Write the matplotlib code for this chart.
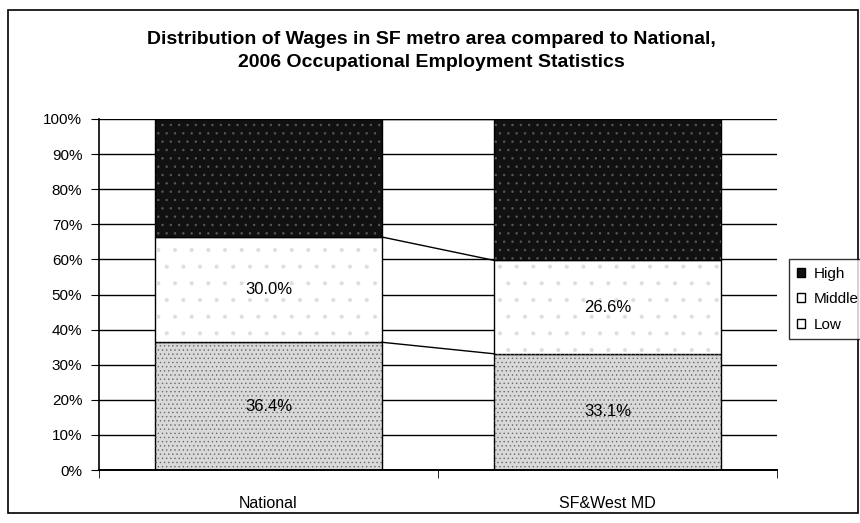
import matplotlib.pyplot as plt
import numpy as np

plt.rcParams['font.family'] = ['Liberation Sans', 'DejaVu Sans']
plt.rcParams['hatch.linewidth'] = 0.5

categories = ["National", "SF&West MD"]
low = [36.4, 33.1]
middle = [30.0, 26.6]
high = [100 - l - m for l, m in zip(low, middle)]
low_labels = ["36.4%", "33.1%"]
middle_labels = ["30.0%", "26.6%"]

fig = plt.figure(figsize=(8.6, 5.23), dpi=100)
# plot area: x 99..777 px, y 119..470 px
ax = fig.add_axes([99 / 860, 1 - 470 / 523, 678 / 860, 351 / 523])

x = np.arange(len(categories))
w = 0.667
bottoms = [l + m for l, m in zip(low, middle)]

ax.set_axisbelow(True)
ax.yaxis.grid(True, color="black", linewidth=1.0)

# fills
b_low = ax.bar(x, low, w, color="#d9d9d9", edgecolor="black", linewidth=1.0, label="Low")
b_mid = ax.bar(x, middle, w, bottom=low, color="white", edgecolor="black",
               linewidth=1.0, label="Middle")
b_high = ax.bar(x, high, w, bottom=bottoms, color="#111111", edgecolor="black",
                linewidth=1.0, label="High")

# speckle textures on top
ax.bar(x, low, w, fill=False, edgecolor="#6a6a6a", linewidth=0, hatch="....")
ax.bar(x, middle, w, bottom=low, fill=False, edgecolor="#dedede", linewidth=0, hatch=".")
ax.bar(x, high, w, bottom=bottoms, fill=False, edgecolor="#5a5a5a", linewidth=0, hatch="..")

# series lines between the bars
for tops in (low, bottoms, [100, 100]):
    ax.plot([x[0] + w / 2, x[1] - w / 2], tops, color="black", linewidth=1.0)

for i in range(len(categories)):
    ax.text(x[i], low[i] / 2, low_labels[i], ha="center", va="center", fontsize=12)
    ax.text(x[i], low[i] + middle[i] / 2, middle_labels[i], ha="center",
            va="center", fontsize=12)

ax.set_xlim(-0.5, 1.5)
ax.set_ylim(0, 100)
ax.set_yticks(range(0, 101, 10))
ax.set_yticklabels([f"{v}%" for v in range(0, 101, 10)], fontsize=11)
ax.set_xticks(x)
ax.set_xticklabels(categories, fontsize=11.5)
ax.tick_params(axis="x", length=0, pad=19)
ax.set_xticks([-0.5, 0.5, 1.5], minor=True)
ax.tick_params(axis="x", which="minor", length=6, direction="out")
ax.tick_params(axis="y", length=6, direction="out", pad=6)
for s in ("top", "right"):
    ax.spines[s].set_visible(False)
ax.spines["left"].set_linewidth(1.2)
ax.spines["bottom"].set_linewidth(1.4)

fig.text(0.502, 0.902, "Distribution of Wages in SF metro area compared to National,\n"
         "2006 Occupational Employment Statistics", ha="center", va="center",
         fontsize=14, fontweight="bold", linespacing=1.45)

leg = fig.legend(handles=[b_high, b_mid, b_low], labels=["High", "Middle", "Low"],
                 loc="upper left", bbox_to_anchor=(789 / 860, 1 - 259 / 523),
                 fontsize=11, frameon=True, fancybox=False, edgecolor="black",
                 handlelength=0.55, handleheight=0.55, handletextpad=0.55,
                 borderpad=0.5, labelspacing=0.75, borderaxespad=0)
leg.get_frame().set_linewidth(1.0)
leg.legend_handles[1].set_facecolor("white")
leg.legend_handles[2].set_facecolor("white")

border = plt.Rectangle((8 / 860, 10 / 523), 850 / 860, 503 / 523,
                       transform=fig.transFigure, fill=False,
                       edgecolor="black", linewidth=1.2)
fig.add_artist(border)

fig.savefig("out.png", dpi=100)
